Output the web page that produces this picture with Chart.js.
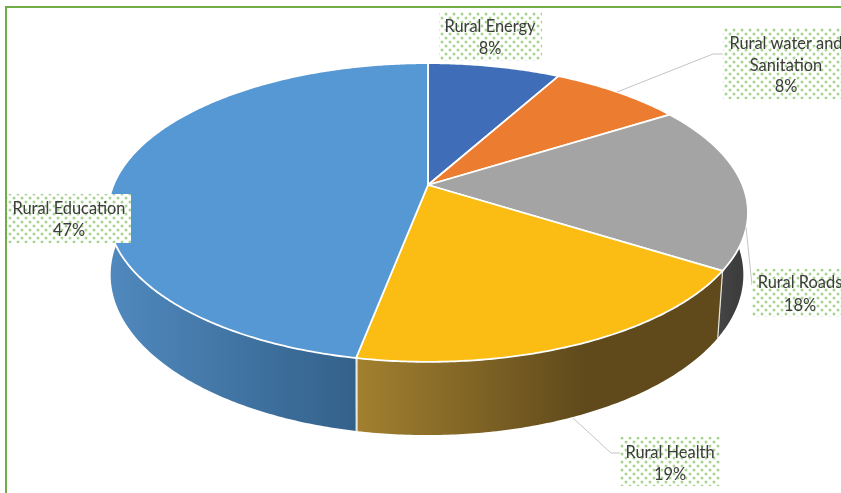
<!DOCTYPE html>
<html>
<head>
<meta charset="utf-8">
<title>Rural sector shares</title>
<script src="https://cdn.jsdelivr.net/npm/chart.js@4"></script>
<style>
  html, body { margin: 0; padding: 0; background: #fff; overflow: hidden; }
  #wrap { position: relative; width: 841px; height: 493px; overflow: hidden; }
  #frame { position: absolute; left: 5px; top: 6px; width: 900px; height: 600px; border: 2.5px solid #70ad47; }
  #pie { position: absolute; left: 0; top: 0; }
</style>
</head>
<body>
<div id="wrap">
  <div id="frame"></div>
  <canvas id="pie" width="841" height="493"></canvas>
</div>
<script>
const categories = ['Rural Energy', 'Rural water and Sanitation', 'Rural Roads', 'Rural Health', 'Rural Education'];
const shares = [8, 8, 18, 19, 47];
const topColors = ['#3f6db7', '#ec7c30', '#a3a4a3', '#fbbd14', '#5698d3'];

// wall shading, dark to the right like the Excel 3D bevel
const wallColors = [
  ['#2f5288', '#2f5288'],
  ['#a85820', '#a85820'],
  ['#454545', '#3d3d3d'],
  ['#a2802f', '#604a1c'],
  ['#5089be', '#33618a'],
];

// perspective of the two pie planes, fitted on the rim of the picture
const TOP_PLANE = { sx: 1.70, sy: 0.78, k: 0.184, dx: 0, dy: 0 };
const BOTTOM_PLANE = { sx: 1.682, sy: 0.838, k: 0.18, dx: -1, dy: 61 };

// label boxes and their text lines
const labelBoxes = [
  { x: 439, y: 12, w: 103, h: 49, cx: 490, lines: ['Rural Energy'], ly: [27, 49] },
  { x: 723, y: 28, w: 118, h: 71, cx: 786, lines: ['Rural water and', 'Sanitation'], ly: [44, 66, 87] },
  { x: 752, y: 269, w: 89, h: 48, cx: 800, lines: ['Rural Roads'], ly: [283, 306] },
  { x: 620, y: 437, w: 100, h: 49, cx: 670, lines: ['Rural Health'], ly: [453, 475] },
  { x: 7, y: 194, w: 124, h: 49, cx: 69, lines: ['Rural Education'], ly: [209, 231] },
];
const leaders = [
  [[617, 92], [713, 54], [723, 54]],
  [[746, 227], [752, 285]],
  [[573, 418], [611, 453], [620, 453]],
];

function project(arc, angle, plane) {
  const u = Math.cos(angle);
  const v = -Math.sin(angle);
  const d = 1 + plane.k * v;
  return {
    x: arc.x + plane.dx + plane.sx * arc.outerRadius * u / d,
    y: arc.y + plane.dy - plane.sy * arc.outerRadius * v / d,
  };
}

function rimPoints(arc, plane, from, to) {
  const pts = [];
  const n = Math.max(2, Math.ceil((to - from) / 0.01));
  for (let i = 0; i <= n; i++) pts.push(project(arc, from + (to - from) * i / n, plane));
  return pts;
}

function drawWall(ctx, arc, colors) {
  // only the part of the rim turned towards the viewer
  const limit = -0.2;
  let from = null, to = null;
  for (let a = arc.startAngle; a <= arc.endAngle; a += 0.005) {
    if (Math.sin(a) > limit) {
      if (from === null) from = a;
      to = a;
    }
  }
  if (from === null || to - from < 0.01) return;
  const up = rimPoints(arc, TOP_PLANE, from, to);
  const down = rimPoints(arc, BOTTOM_PLANE, from, to);
  const xs = up.concat(down).map(p => p.x);
  const grad = ctx.createLinearGradient(Math.min(...xs), 0, Math.max(...xs), 0);
  grad.addColorStop(0, colors[0]);
  grad.addColorStop(arc.endAngle > Math.PI ? 1 : 0.62, colors[1]);
  grad.addColorStop(1, colors[1]);
  ctx.beginPath();
  up.forEach((p, i) => (i ? ctx.lineTo(p.x, p.y) : ctx.moveTo(p.x, p.y)));
  down.reverse().forEach(p => ctx.lineTo(p.x, p.y));
  ctx.closePath();
  ctx.fillStyle = grad;
  ctx.fill();
}

function drawWallEdge(ctx, arc, angle) {
  if (Math.sin(angle) < 0) return;
  const a = project(arc, angle, TOP_PLANE);
  const b = project(arc, angle, BOTTOM_PLANE);
  ctx.beginPath();
  ctx.moveTo(a.x, a.y);
  ctx.lineTo(b.x, b.y);
  ctx.strokeStyle = '#e6e6e0';
  ctx.lineWidth = 1.2;
  ctx.stroke();
}

function drawTop(ctx, arc, color) {
  const rim = rimPoints(arc, TOP_PLANE, arc.startAngle, arc.endAngle);
  ctx.beginPath();
  ctx.moveTo(arc.x, arc.y);
  rim.forEach(p => ctx.lineTo(p.x, p.y));
  ctx.closePath();
  ctx.fillStyle = color;
  ctx.fill();
  ctx.strokeStyle = '#ffffff';
  ctx.lineWidth = 1.8;
  ctx.lineJoin = 'round';
  ctx.stroke();
}

function dotPattern(ctx) {
  const tile = document.createElement('canvas');
  tile.width = 8;
  tile.height = 8;
  const t = tile.getContext('2d');
  t.fillStyle = '#ffffff';
  t.fillRect(0, 0, 8, 8);
  t.fillStyle = '#a8d491';
  [[2, 2], [6, 6], [6, -2], [-2, 6], [10, 6], [2, 10]].forEach(([x, y]) => {
    t.beginPath();
    t.arc(x, y, 1.5, 0, Math.PI * 2);
    t.fill();
  });
  return ctx.createPattern(tile, 'repeat');
}

const total = shares.reduce((a, b) => a + b, 0);

const pie3d = {
  id: 'pie3d',
  beforeDatasetsDraw(chart) {
    const ctx = chart.ctx;
    const arcs = chart.getDatasetMeta(0).data;
    ctx.save();
    arcs.forEach((arc, i) => drawWall(ctx, arc, wallColors[i]));
    arcs.forEach(arc => drawWallEdge(ctx, arc, arc.startAngle));
    arcs.forEach((arc, i) => drawTop(ctx, arc, topColors[i]));
    ctx.restore();
    return false;
  },
  afterDraw(chart) {
    const ctx = chart.ctx;
    ctx.save();
    ctx.strokeStyle = '#c4c4c4';
    ctx.lineWidth = 1;
    leaders.forEach(pts => {
      ctx.beginPath();
      pts.forEach((p, i) => (i ? ctx.lineTo(p[0], p[1]) : ctx.moveTo(p[0], p[1])));
      ctx.stroke();
    });
    const pattern = dotPattern(ctx);
    labelBoxes.forEach((box, i) => {
      ctx.fillStyle = pattern;
      ctx.fillRect(box.x, box.y, box.w, box.h);
      ctx.fillStyle = '#3c3c3c';
      ctx.font = '16.4px Lato, "Open Sans", sans-serif';
      ctx.textAlign = 'center';
      ctx.textBaseline = 'middle';
      const pct = Math.round(shares[i] / total * 100) + '%';
      box.lines.concat(pct).forEach((line, j) => ctx.fillText(line, box.cx, box.ly[j]));
    });
    ctx.restore();
  },
};

new Chart(document.getElementById('pie'), {
  type: 'pie',
  data: {
    labels: categories,
    datasets: [{ data: shares, backgroundColor: topColors, borderWidth: 0 }],
  },
  options: {
    responsive: false,
    animation: false,
    layout: { padding: { left: 15, right: 0, top: 0, bottom: 123 } },
    plugins: { legend: { display: false }, tooltip: { enabled: false } },
  },
  plugins: [pie3d],
});
</script>
</body>
</html>
